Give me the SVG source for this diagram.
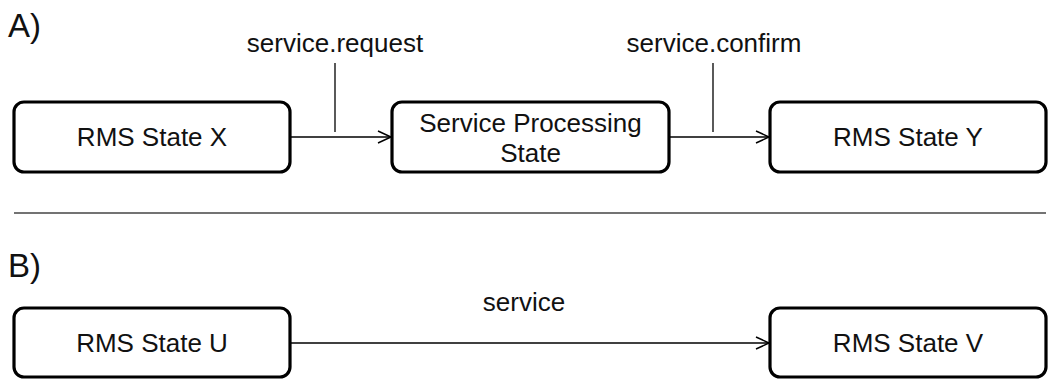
<svg xmlns="http://www.w3.org/2000/svg" width="1050" height="379" viewBox="0 0 1050 379">
<style>
.box{fill:#fff;stroke:#000;stroke-width:3.2}
.t{font-family:"Liberation Sans",Arial,sans-serif;font-size:26px;fill:#111;text-anchor:middle}
.h{font-family:"Liberation Sans",Arial,sans-serif;font-size:33px;fill:#111}
.c{stroke:#000;stroke-width:1.3;fill:none}
</style>
<defs>
<marker id="arr" markerWidth="16" markerHeight="14" refX="14" refY="7" orient="auto" markerUnits="userSpaceOnUse">
<path d="M1,1 L14,7 L1,13" fill="none" stroke="#000" stroke-width="1.5"/>
</marker>
</defs>
<text class="h" x="8" y="37">A)</text>
<text class="h" x="8" y="277">B)</text>
<line x1="14" y1="213" x2="1046" y2="213" stroke="#444" stroke-width="1.3"/>
<g id="connectors">
<line class="c" x1="290" y1="137" x2="391" y2="137" marker-end="url(#arr)"/>
<line class="c" x1="335" y1="63" x2="335" y2="132"/>
<text class="t" x="335" y="52">service.request</text>
<line class="c" x1="669" y1="137" x2="769" y2="137" marker-end="url(#arr)"/>
<line class="c" x1="713" y1="63" x2="713" y2="132"/>
<text class="t" x="714" y="52">service.confirm</text>
<line class="c" x1="290" y1="343" x2="769" y2="343" marker-end="url(#arr)"/>
<text class="t" x="524" y="311">service</text>
</g>
<g id="stateX"><rect class="box" x="14" y="102" width="276" height="70" rx="10"/><text class="t" x="152" y="146">RMS State X</text></g>
<g id="serviceProcessing"><rect class="box" x="392" y="102" width="277" height="70" rx="10"/><text class="t" x="530.5" y="132">Service Processing</text><text class="t" x="530.5" y="162">State</text></g>
<g id="stateY"><rect class="box" x="770" y="102" width="276" height="70" rx="10"/><text class="t" x="908" y="146">RMS State Y</text></g>
<g id="stateU"><rect class="box" x="14" y="308" width="276" height="69" rx="10"/><text class="t" x="152" y="352">RMS State U</text></g>
<g id="stateV"><rect class="box" x="770" y="308" width="276" height="69" rx="10"/><text class="t" x="908" y="352">RMS State V</text></g>
</svg>
